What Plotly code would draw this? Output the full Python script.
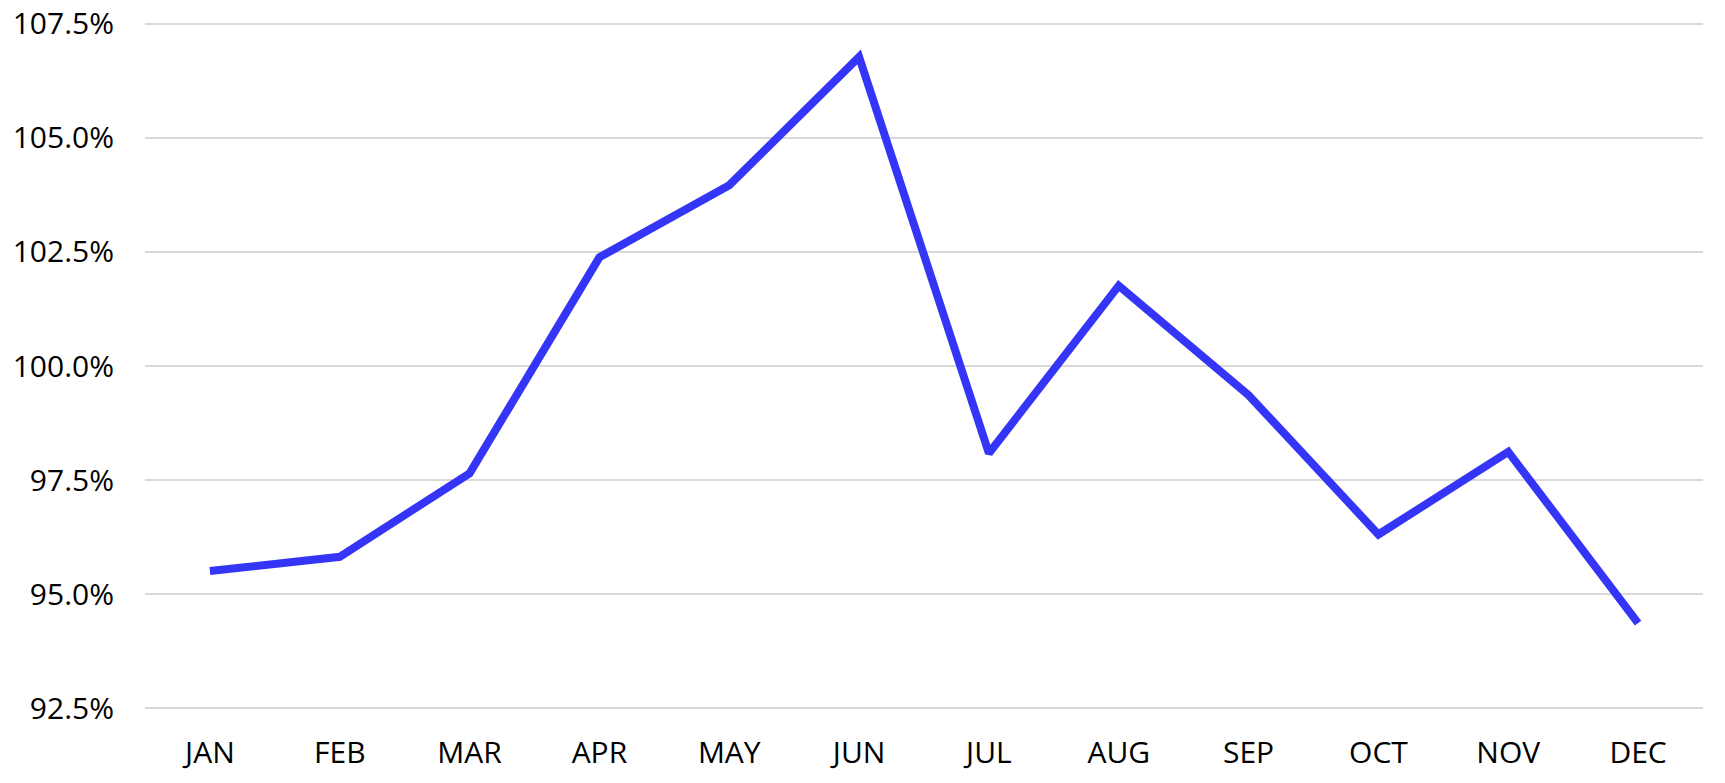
import plotly.graph_objects as go

months = ["JAN", "FEB", "MAR", "APR", "MAY", "JUN", "JUL", "AUG", "SEP", "OCT", "NOV", "DEC"]
values = [95.51, 95.82, 97.65, 102.38, 103.96, 106.77, 98.09, 101.76, 99.36, 96.31, 98.12, 94.37]
y_ticks = [92.5, 95.0, 97.5, 100.0, 102.5, 105.0, 107.5]
y_tick_labels = ["92.5%", "95.0%", "97.5%", "100.0%", "102.5%", "105.0%", "107.5%"]

fig = go.Figure()
fig.add_trace(go.Scatter(
    x=months, y=values, mode="lines",
    line=dict(color="#3535F7", width=8),
    hoverinfo="skip",
))

font = dict(family="Open Sans, Liberation Sans, sans-serif", size=30, color="#000000")

fig.update_layout(
    width=1725, height=783,
    margin=dict(l=145, r=22, t=19, b=70),
    paper_bgcolor="white", plot_bgcolor="white",
    showlegend=False,
    font=font,
)
fig.update_xaxes(
    type="category", range=[-0.5, 11.5], automargin=False,
    showgrid=False, zeroline=False, showline=False,
    tickfont=font, ticks="", ticklabelstandoff=19,
)
fig.update_yaxes(
    range=[92.4, 107.6], automargin=False,
    tickvals=y_ticks, ticktext=y_tick_labels,
    showgrid=True, gridcolor="#d9d9d9", gridwidth=2,
    zeroline=False, showline=False,
    tickfont=font, ticks="", ticklabelstandoff=30,
)

fig.write_html("out.html")
